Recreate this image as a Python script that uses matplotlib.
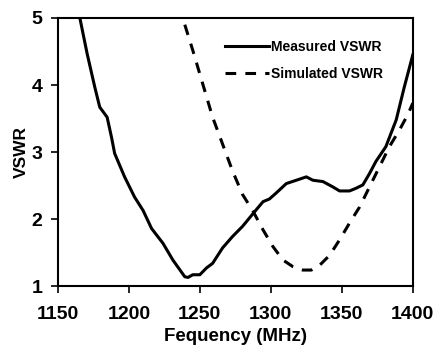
import matplotlib.pyplot as plt

plt.rcParams['font.family'] = ['Liberation Sans', 'DejaVu Sans']
plt.rcParams['font.weight'] = 'bold'

meas_f = [1165.5, 1170.6, 1176, 1179.5, 1184.7, 1187.8, 1190, 1197, 1204, 1210,
          1216, 1224, 1231, 1239.4, 1241.7, 1245, 1250, 1254.6, 1259, 1266,
          1273, 1280, 1287.4, 1294.5, 1299, 1303.8, 1310.9, 1318, 1325, 1329.6,
          1336.7, 1343.7, 1348.4, 1355.4, 1360, 1364.8, 1369.5, 1374, 1381,
          1388.3, 1394, 1400]
meas_v = [5.0, 4.47, 3.97, 3.67, 3.52, 3.22, 2.98, 2.63, 2.33, 2.13,
          1.86, 1.64, 1.39, 1.14, 1.13, 1.17, 1.17, 1.27, 1.34, 1.57,
          1.74, 1.89, 2.08, 2.26, 2.30, 2.39, 2.53, 2.58, 2.63, 2.58,
          2.56, 2.48, 2.42, 2.42, 2.46, 2.51, 2.68, 2.86, 3.08,
          3.48, 3.97, 4.45]

sim_f = [1239.4, 1245, 1252, 1259, 1266, 1273, 1280, 1287.4, 1294.5, 1301.5,
         1308.5, 1315.6, 1322.6, 1328.5, 1334.3, 1341.4, 1348.4, 1355.4, 1362.5,
         1369.5, 1376.5, 1383.5, 1390.6, 1396.5, 1400]
sim_v = [4.9, 4.52, 4.02, 3.52, 3.12, 2.72, 2.37, 2.12, 1.84, 1.59,
         1.39, 1.29, 1.24, 1.24, 1.31, 1.46, 1.69, 1.94, 2.18,
         2.48, 2.78, 3.08, 3.33, 3.56, 3.73]

fig = plt.figure(figsize=(4.35, 3.46), dpi=100)
ax = fig.add_axes([0.133, 0.173, 0.816, 0.775])

ax.plot(meas_f, meas_v, color='black', lw=2.2, label='Measured VSWR')
ax.plot(sim_f, sim_v, color='black', lw=2.2, dashes=(3.5, 3), label='Simulated VSWR')

ax.set_xlim(1150, 1400)
ax.set_ylim(1, 5)
ax.set_xticks([1150, 1200, 1250, 1300, 1350, 1400])
ax.set_yticks([1, 2, 3, 4, 5])
ax.tick_params(labelsize=14, width=1.2, length=5, direction='out')
ax.tick_params(axis='x', pad=9)
ax.tick_params(axis='y', pad=6)
for s in ax.spines.values():
    s.set_linewidth(1.5)
ax.set_xlabel('Fequency (MHz)', fontsize=13.5, fontweight='bold', labelpad=4)
ax.set_ylabel('VSWR', fontsize=12.5, fontweight='bold', labelpad=2)

ax.legend(loc='upper left', bbox_to_anchor=(0.435, 0.965), frameon=False,
          fontsize=10, handlelength=3.2, handletextpad=0.1, labelspacing=0.95)

fig.savefig('out.png', dpi=100)
